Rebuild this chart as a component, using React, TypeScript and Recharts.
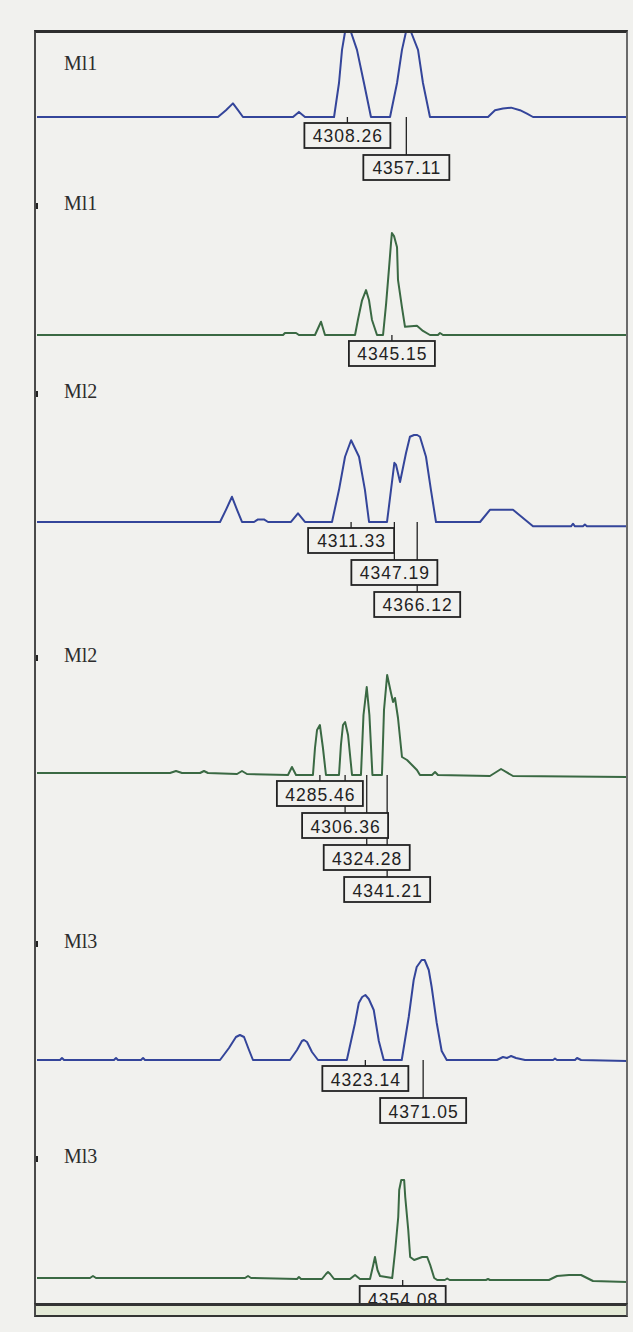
import { LineChart, Line, XAxis, YAxis, ReferenceDot } from 'recharts';

// m/z window shared by every trace
const mzDomain: [number, number] = [4051, 4540];

const panelNames = ['Ml1', 'Ml1', 'Ml2', 'Ml2', 'Ml3', 'Ml3'];

// [m/z, relative intensity %], one list per trace
const ml1Blue: [number, number][] = [
    [4051, 0], [4201, 0], [4207.6, 8], [4213.4, 16], [4217.6, 8], [4221.7, 0],
    [4263.2, 0], [4268.1, 6], [4273.1, 0],
    [4297.2, 0], [4301.3, 40], [4303.8, 79], [4306.3, 100], [4311.2, 100], [4316.2, 79], [4322, 40], [4327.8, 0],
    [4343.6, 0], [4349.4, 40], [4353.5, 79], [4356.8, 100], [4361, 100], [4366.8, 79], [4370.9, 40], [4376.7, 0],
    [4424.8, 0], [4430.6, 8], [4437.2, 10], [4443.9, 11], [4451.3, 8], [4457.1, 4], [4462.1, 0],
    [4540, 0],
];

const ml1Green: [number, number][] = [
    [4051, 0], [4254.9, 0], [4256.5, 2], [4265.7, 2], [4268.1, 0],
    [4281.4, 0], [4286.4, 13], [4289.7, 0],
    [4314.6, 0], [4317, 15], [4320.4, 34], [4323.7, 44], [4326.2, 34], [4328.6, 15], [4332.8, 0],
    [4337.8, 0], [4340.3, 30], [4342.8, 66], [4344.4, 90], [4345.15, 100], [4346.9, 97], [4349.4, 86],
    [4350.2, 54], [4353.5, 27], [4356, 8], [4365.9, 9], [4370.9, 4], [4376.7, 0],
    [4383.3, 0], [4385, 2], [4387.5, 0],
    [4540, 0],
];

const ml2Blue: [number, number][] = [
    [4051, 0], [4202.7, 0], [4207.6, 14], [4212.6, 29], [4216.8, 14], [4220.9, 0],
    [4230.9, 0], [4234.2, 3], [4239.1, 3], [4242.5, 0],
    [4261.5, 0], [4267.3, 10], [4273.1, 0],
    [4295.5, 0], [4301.3, 37], [4306.3, 75], [4311.33, 94], [4317.9, 75], [4322.8, 37], [4326.2, 0],
    [4341.1, 0], [4344.4, 37], [4347.19, 68], [4348.5, 66], [4351.9, 46], [4356.8, 79], [4360.1, 98],
    [4363.5, 100], [4366.12, 100], [4368.4, 98], [4373.4, 75], [4377.5, 37], [4381.7, 0],
    [4418.2, 0], [4426.4, 14], [4445.5, 14], [4462.1, -5],
    [4493.6, -5], [4495.2, -2], [4496.9, -5], [4503.5, -5], [4505.1, -3], [4506.8, -5],
    [4540, -5],
];

const ml2Green: [number, number][] = [
    [4051, 2], [4161.2, 2], [4166.2, 4], [4171.2, 2], [4186.1, 2], [4189.4, 4], [4192.7, 2],
    [4216.8, 1], [4220.9, 4], [4225, 1],
    [4259, 0], [4262.3, 8], [4265.7, 0],
    [4279.7, 0], [4281.4, 27], [4283.1, 45], [4285.46, 50], [4288, 27], [4290.5, 0],
    [4301.3, 0], [4302.9, 30], [4304.6, 50], [4306.36, 53], [4308.8, 40], [4312.1, 0],
    [4319.5, 0], [4321.6, 60], [4324.28, 88], [4326.5, 60], [4329, 0],
    [4336.9, 0], [4338.6, 65], [4341.21, 100], [4344.4, 82], [4346.1, 73], [4347.7, 77],
    [4350.2, 57], [4353.5, 18], [4357.7, 15], [4361.8, 10], [4365.9, 5], [4368.4, 0],
    [4378.4, 0], [4380.9, 3], [4383.3, 0],
    [4426.4, -1], [4435.6, 6], [4445.5, -1],
    [4540, -2],
];

const ml3Blue: [number, number][] = [
    [4051, 0], [4070.1, 0], [4071.7, 2], [4073.4, 0], [4114.8, 0], [4116.5, 2], [4118.1, 0],
    [4137.2, 0], [4138.9, 2], [4140.5, 0],
    [4202.7, 0], [4210.1, 12], [4215.9, 23], [4219.2, 25], [4222.6, 23], [4226.7, 10], [4230, 0],
    [4260.7, 0], [4266.5, 10], [4270.6, 19], [4272.3, 20], [4274.8, 18], [4278.9, 8], [4283.9, 0],
    [4307.8, 0], [4314.4, 36], [4317.7, 57], [4320.5, 63], [4323.14, 65], [4326, 61], [4330.1, 50],
    [4334.3, 19], [4338.4, 0],
    [4353.3, 0], [4359.1, 43], [4363.2, 80], [4365.7, 93], [4369.8, 100], [4372.3, 100], [4375.7, 90],
    [4378.1, 73], [4382.3, 37], [4386.4, 9], [4390.6, 0],
    [4432.2, 0], [4437.2, 3], [4440.5, 2], [4443.9, 4], [4448, 2], [4455.5, 0],
    [4478.7, 0], [4480.3, 1.5], [4482, 0], [4496.9, 0], [4498.6, 2], [4501.9, 0],
    [4540, -1],
];

const ml3Green: [number, number][] = [
    [4051, 2], [4094.9, 2], [4097.4, 4], [4099.9, 2],
    [4223.4, 2], [4225.9, 4], [4228.4, 2],
    [4266.5, 1], [4268.1, 3], [4269.8, 1],
    [4287.2, 1], [4290.5, 6], [4292.2, 8], [4294, 6], [4297.2, 1],
    [4310.4, 1], [4314.6, 5], [4318.7, 1],
    [4327, 1], [4329.5, 14], [4331.1, 23], [4333.2, 10], [4335.3, 4],
    [4345.4, 2], [4347.9, 30], [4350.4, 63], [4351.2, 90], [4352.9, 100], [4355.3, 100], [4356.2, 83],
    [4358.7, 50], [4360.3, 23], [4363.6, 20], [4370.3, 23], [4374.4, 23], [4376.9, 15], [4380.2, 2], [4382.7, 0],
    [4389, 0], [4391, 1.5], [4393, 0],
    [4423.1, 0], [4424.8, 1], [4426.4, 0],
    [4475.3, 0], [4482, 4], [4491.9, 5], [4501.9, 5], [4511.8, -1],
    [4540, -2],
];

// labelled peak masses, stacked downwards in this order
const ml1BluePeaks = [4308.26, 4357.11];
const ml1GreenPeaks = [4345.15];
const ml2BluePeaks = [4311.33, 4347.19, 4366.12];
const ml2GreenPeaks = [4285.46, 4306.36, 4324.28, 4341.21];
const ml3BluePeaks = [4323.14, 4371.05];
const ml3GreenPeaks = [4354.08];

const PAGE_BG = '#f1f1ee';
const BLUE = '#34459a';
const GREEN = '#3a6943';
const INK = '#222';
const LOW = -8;

interface Panel {
    name: string;
    points: [number, number][];
    peaks: number[];
    color: string;
    yTop: number;   // pixel row of 100 %
    yBase: number;  // pixel row of 0 %
    labelY: number; // baseline of the panel name
    mark: boolean;
}

const panels: Panel[] = [
    { name: panelNames[0], points: ml1Blue, peaks: ml1BluePeaks, color: BLUE, yTop: 32, yBase: 117, labelY: 70, mark: false },
    { name: panelNames[1], points: ml1Green, peaks: ml1GreenPeaks, color: GREEN, yTop: 233, yBase: 335, labelY: 210, mark: true },
    { name: panelNames[2], points: ml2Blue, peaks: ml2BluePeaks, color: BLUE, yTop: 435, yBase: 522, labelY: 398, mark: true },
    { name: panelNames[3], points: ml2Green, peaks: ml2GreenPeaks, color: GREEN, yTop: 675, yBase: 775, labelY: 662, mark: true },
    { name: panelNames[4], points: ml3Blue, peaks: ml3BluePeaks, color: BLUE, yTop: 960, yBase: 1060, labelY: 948, mark: true },
    { name: panelNames[5], points: ml3Green, peaks: ml3GreenPeaks, color: GREEN, yTop: 1180, yBase: 1280, labelY: 1163, mark: true },
];

function PeakTag({ cx, cy, level, text }: { cx: number; cy: number; level: number; text: string }) {
    const w = 86;
    const h = 25;
    const boxTop = cy + 6 + level * 32;
    return (
        <g>
            <line x1={cx} y1={cy} x2={cx} y2={boxTop} stroke={INK} strokeWidth={1.3} />
            <rect x={cx - w / 2} y={boxTop} width={w} height={h} fill={PAGE_BG} stroke={INK} strokeWidth={1.8} />
            <text
                x={cx + 0.5}
                y={boxTop + h / 2 + 1}
                textAnchor="middle"
                dominantBaseline="central"
                fontFamily='"Liberation Sans", Arial, sans-serif'
                fontSize={17.5}
                letterSpacing={1}
                fill={INK}
            >
                {text}
            </text>
        </g>
    );
}

function Trace({ p }: { p: Panel }) {
    const data = p.points.map(([mz, rel]) => ({ mz, rel }));
    const plotH = ((p.yBase - p.yTop) * (100 - LOW)) / 100;
    const padTop = 3;
    const below = 150;
    // deepest box first so the upper boxes cover the longer leader lines
    const tags = p.peaks.map((mz, level) => ({ mz, level })).reverse();

    return (
        <div style={{ position: 'absolute', left: 37, top: p.yTop - padTop }}>
            <LineChart
                width={590}
                height={padTop + plotH + below}
                data={data}
                margin={{ top: padTop, right: 0, bottom: below, left: 0 }}
            >
                <XAxis type="number" dataKey="mz" domain={mzDomain} hide />
                <YAxis type="number" domain={[LOW, 100]} hide />
                <Line
                    type="linear"
                    dataKey="rel"
                    stroke={p.color}
                    strokeWidth={2}
                    strokeLinejoin="round"
                    dot={false}
                    activeDot={false}
                    isAnimationActive={false}
                />
                {tags.map((t) => (
                    <ReferenceDot
                        key={t.mz}
                        x={t.mz}
                        y={0}
                        r={0}
                        shape={(s: any) => <PeakTag cx={s.cx} cy={s.cy} level={t.level} text={t.mz.toFixed(2)} />}
                    />
                ))}
            </LineChart>
        </div>
    );
}

export default function App() {
    return (
        <div style={{ position: 'absolute', left: 0, top: 0, width: 633, height: 1332, background: PAGE_BG, overflow: 'hidden' }}>
            {panels.map((p, i) => (
                <Trace key={i} p={p} />
            ))}

            {panels.map((p, i) => (
                <div key={`name-${i}`}>
                    <div
                        style={{
                            position: 'absolute',
                            left: 64,
                            top: p.labelY - 17,
                            fontFamily: '"Liberation Serif", "Times New Roman", serif',
                            fontSize: 20,
                            lineHeight: '20px',
                            color: '#2c2c2c',
                        }}
                    >
                        {p.name}
                    </div>
                    {p.mark && (
                        <div style={{ position: 'absolute', left: 35, top: p.labelY - 7, width: 3, height: 6, background: INK }} />
                    )}
                </div>
            ))}

            {/* frame */}
            <div
                style={{
                    position: 'absolute',
                    left: 34,
                    top: 30,
                    width: 594,
                    height: 1286,
                    boxSizing: 'border-box',
                    borderTop: '3px solid #2e2e2e',
                    borderLeft: '2px solid #4a4a4a',
                    borderRight: '2px solid #6a6a6a',
                    pointerEvents: 'none',
                }}
            />
            {/* bottom strip */}
            <div
                style={{
                    position: 'absolute',
                    left: 34,
                    top: 1303,
                    width: 594,
                    height: 14,
                    boxSizing: 'border-box',
                    borderTop: '3px solid #333',
                    borderBottom: '2px solid #333',
                    borderLeft: '2px solid #4a4a4a',
                    borderRight: '2px solid #6a6a6a',
                    background: '#e3e9d6',
                }}
            />
        </div>
    );
}
